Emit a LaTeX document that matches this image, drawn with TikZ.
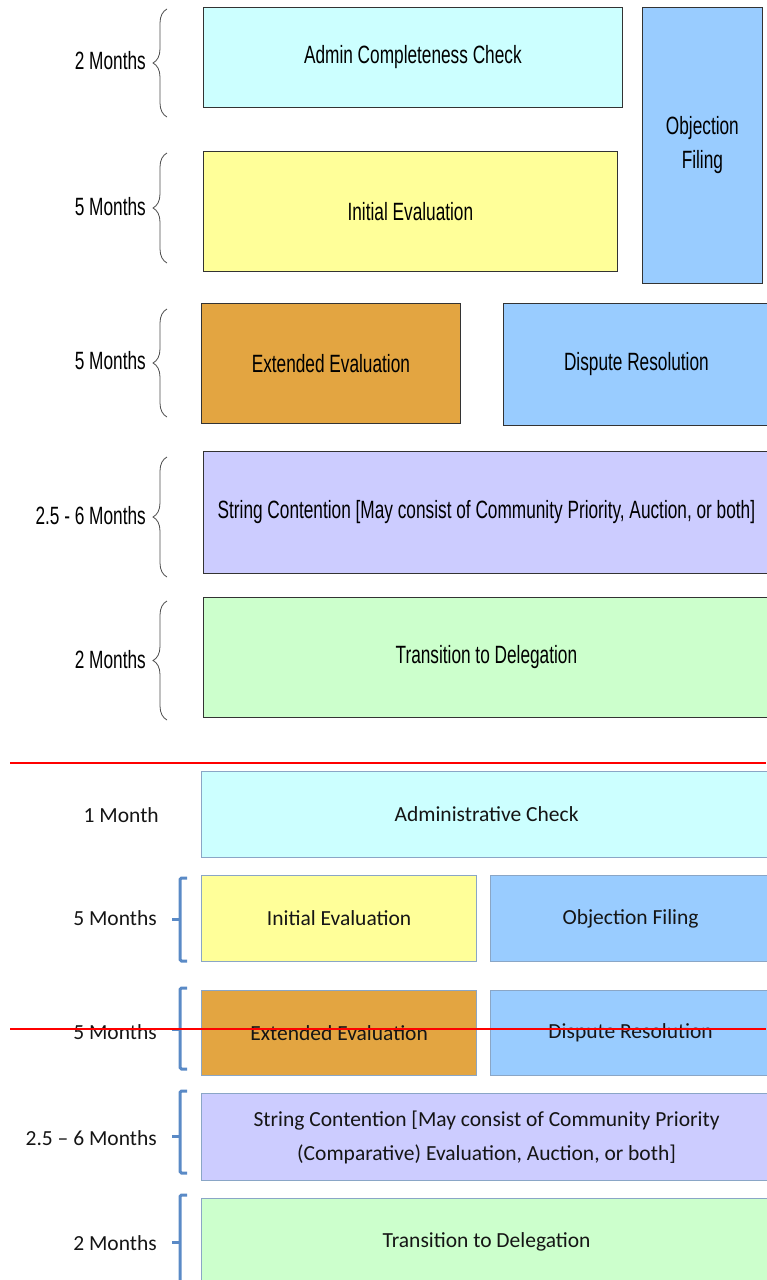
\documentclass[tikz,border=0pt]{standalone}
\usepackage{fontspec}
\usetikzlibrary{decorations.pathreplacing}
\newfontfamily\topfont[FakeStretch=0.69]{Liberation Sans}
\newfontfamily\botfont{Carlito}
\definecolor{cA}{HTML}{CCFFFF}
\definecolor{cY}{HTML}{FFFF99}
\definecolor{cO}{HTML}{E3A541}
\definecolor{cB}{HTML}{99CCFF}
\definecolor{cL}{HTML}{CCCCFF}
\definecolor{cG}{HTML}{CCFFCC}
\definecolor{bbord}{HTML}{8AA6C6}
\definecolor{brk}{HTML}{5A8AC6}
\definecolor{btxt}{HTML}{151515}
\tikzset{
  topbox/.style={draw=black!80, line width=0.8pt, inner sep=0pt, anchor=north west, align=center,
    font=\topfont\fontsize{25}{34}\selectfont},
  botbox/.style={draw=bbord, line width=1.2pt, inner sep=0pt, anchor=north west, align=center,
    text=btxt, font=\botfont\fontsize{21.5}{34}\selectfont},
  toplabel/.style={anchor=east, inner sep=0pt, font=\topfont\fontsize{25}{30}\selectfont},
  botlabel/.style={anchor=east, inner sep=0pt, text=btxt, font=\botfont\fontsize{21.5}{26}\selectfont},
  tbrace/.style={decorate, decoration={brace, amplitude=14pt}, draw=black!70, line width=0.8pt},
  bbrack/.style={draw=brk, line width=3pt, rounded corners=1.5pt},
  redline/.style={draw=red, line width=1.6pt}
}
\begin{document}
\begin{tikzpicture}[x=1pt,y=-1pt]
\useasboundingbox (0,0) rectangle (766,1280);
% ---- top section ----
\node[topbox, fill=cA, minimum width=419pt, minimum height=100pt] (acc) at (203,7) {Admin Completeness Check};
\node[topbox, fill=cB, minimum width=120pt, minimum height=276pt] (of1) at (642,7) {Objection\\Filing};
\node[topbox, fill=cY, minimum width=414pt, minimum height=120pt] (ie1) at (203,151) {Initial Evaluation};
\node[topbox, fill=cO, minimum width=259pt, minimum height=120pt] (ee1) at (201,303) {Extended Evaluation};
\node[topbox, fill=cB, minimum width=266pt, minimum height=122pt] (dr1) at (503,303) {Dispute Resolution};
\node[topbox, fill=cL, minimum width=566pt, minimum height=122pt] (sc1) at (203,451) {String Contention [May consist of Community Priority, Auction, or both]};
\node[topbox, fill=cG, minimum width=566pt, minimum height=120pt] (td1) at (203,597) {Transition to Delegation};

\coordinate (b1t) at (167,9);   \coordinate (b1b) at (167,117);
\coordinate (b2t) at (167,153); \coordinate (b2b) at (167,263);
\coordinate (b3t) at (167,309); \coordinate (b3b) at (167,417);
\coordinate (b4t) at (167,457); \coordinate (b4b) at (167,577);
\coordinate (b5t) at (167,601); \coordinate (b5b) at (167,720);
\draw[tbrace] (b1b) -- (b1t);
\draw[tbrace] (b2b) -- (b2t);
\draw[tbrace] (b3b) -- (b3t);
\draw[tbrace] (b4b) -- (b4t);
\draw[tbrace] (b5b) -- (b5t);
\node[toplabel] (l1) at (146,61) {2 Months};
\node[toplabel] (l2) at (146,207) {5 Months};
\node[toplabel] (l3) at (146,361) {5 Months};
\node[toplabel] (l4) at (146,516) {2.5 - 6 Months};
\node[toplabel] (l5) at (146,660) {2 Months};

% ---- divider ----
\coordinate (r1a) at (10,763); \coordinate (r1b) at (766,763);
\draw[redline] (r1a) -- (r1b);

% ---- bottom section ----
\node[botbox, fill=cA, minimum width=570pt, minimum height=86pt] (ac2) at (201,771) {Administrative Check};
\node[botbox, fill=cY, minimum width=275pt, minimum height=86pt] (ie2) at (201,875) {Initial Evaluation};
\node[botbox, fill=cB, minimum width=280pt, minimum height=86pt] (of2) at (490,875) {Objection Filing};
\node[botbox, fill=cO, minimum width=275pt, minimum height=85pt] (ee2) at (201,990) {Extended Evaluation};
\node[botbox, fill=cB, minimum width=280pt, minimum height=85pt] (dr2) at (490,990) {Dispute Resolution};
\node[botbox, fill=cL, minimum width=570pt, minimum height=87pt] (sc2) at (201,1093) {String Contention [May consist of Community Priority\\(Comparative) Evaluation, Auction, or both]};
\node[botbox, fill=cG, minimum width=570pt, minimum height=87pt] (td2) at (201,1198) {Transition to Delegation};

\draw[bbrack] (187,878) -- (180,878) -- (180,961) -- (187,961);
\draw[bbrack] (180,919) -- (172,919);
\draw[bbrack] (187,988) -- (180,988) -- (180,1069) -- (187,1069);
\draw[bbrack] (180,1029) -- (172,1029);
\draw[bbrack] (187,1091) -- (180,1091) -- (180,1173) -- (187,1173);
\draw[bbrack] (180,1136) -- (172,1136);
\draw[bbrack] (187,1195) -- (180,1195) -- (180,1290);
\draw[bbrack] (180,1242) -- (172,1242);

\node[botlabel] (m1) at (159,815) {1 Month};
\node[botlabel] (m2) at (157,918) {5 Months};
\node[botlabel] (m3) at (157,1032) {5 Months};
\node[botlabel] (m4) at (157,1138) {2.5 – 6 Months};
\node[botlabel] (m5) at (157,1243) {2 Months};

\coordinate (r2a) at (10,1029); \coordinate (r2b) at (766,1029);
\draw[redline] (r2a) -- (r2b);
\end{tikzpicture}
\end{document}
